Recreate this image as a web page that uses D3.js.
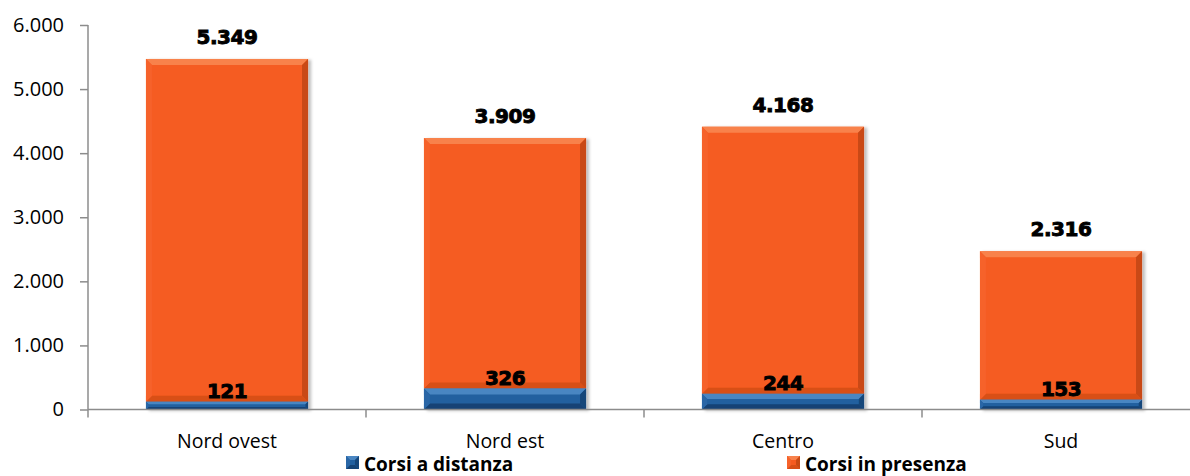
<!DOCTYPE html>
<html>
<head>
<meta charset="utf-8">
<script src="https://cdn.jsdelivr.net/npm/d3@7"></script>
<style>
  body { margin: 0; background: #fff; }
  svg { display: block; }
</style>
</head>
<body>
<div id="chart"></div>
<script>
// data
const categories = ["Nord ovest", "Nord est", "Centro", "Sud"];
const distanza = [121, 326, 244, 153];
const presenza = [5349, 3909, 4168, 2316];
const yTicks = [0, 1000, 2000, 3000, 4000, 5000, 6000];
const seriesNames = ["Corsi a distanza", "Corsi in presenza"];

var width = 1190, height = 476;
var plotLeft = 88, plotRight = 1200, plotTop = 25, plotBottom = 409.5;

var it = d3.formatLocale({decimal: ",", thousands: ".", grouping: [3], currency: ["€", ""]});
var fmt = it.format(",d");

var svg = d3.select("#chart").append("svg")
  .attr("width", width).attr("height", height);

var defs = svg.append("defs");
var f = defs.append("filter").attr("id", "shadow")
  .attr("x", "-10%").attr("y", "-10%").attr("width", "130%").attr("height", "130%");
f.append("feDropShadow").attr("dx", 3).attr("dy", 1).attr("stdDeviation", 1.5)
  .attr("flood-color", "#000").attr("flood-opacity", 0.25);

var x = d3.scaleBand().domain(categories).range([plotLeft, plotRight])
  .paddingInner(0.417).paddingOuter(0.2085);
var y = d3.scaleLinear().domain([0, 6000]).range([plotBottom, plotTop]);

// colours: main, top, left, right, bottom
var palette = {
  blue:   {main: "#22609f", top: "#4a86c2", left: "#2966a6", right: "#15467a", bottom: "#154375"},
  orange: {main: "#f55b20", top: "#f8824c", left: "#f6622a", right: "#c94a14", bottom: "#d84f17"}
};

function bevelBox(g, x0, x1, y0, y1, c, bmax) {
  var b = Math.min(bmax || 6, (y1 - y0) / 3, (x1 - x0) / 2);
  g.append("rect").attr("x", x0).attr("y", y0)
    .attr("width", x1 - x0).attr("height", y1 - y0).attr("fill", c.main);
  var polys = [
    [[x0, y0], [x1, y0], [x1 - b, y0 + b], [x0 + b, y0 + b], c.top],
    [[x0, y1], [x1, y1], [x1 - b, y1 - b], [x0 + b, y1 - b], c.bottom],
    [[x0, y0], [x0 + b, y0 + b], [x0 + b, y1 - b], [x0, y1], c.left],
    [[x1, y0], [x1 - b, y0 + b], [x1 - b, y1 - b], [x1, y1], c.right]
  ];
  polys.forEach(function(p) {
    g.append("polygon")
      .attr("points", p.slice(0, 4).map(function(q) { return q.join(","); }).join(" "))
      .attr("fill", p[4]);
  });
}

// bars
categories.forEach(function(cat, i) {
  var g = svg.append("g").attr("filter", "url(#shadow)");
  var x0 = x(cat), x1 = x(cat) + x.bandwidth();
  bevelBox(g, x0, x1, y(distanza[i] + presenza[i]), y(distanza[i]), palette.orange);
  bevelBox(g, x0, x1, y(distanza[i]), y(0), palette.blue);
});

// axes
var axisColor = "#8c8c8c";
var yAxis = svg.append("g").attr("transform", "translate(" + plotLeft + ",0)")
  .call(d3.axisLeft(y).tickValues(yTicks).tickFormat(fmt).tickSize(8).tickPadding(16));
yAxis.select(".domain").attr("stroke", axisColor).attr("stroke-width", 1.5)
  .attr("d", "M0," + plotTop + "V" + plotBottom);
yAxis.selectAll(".tick line").attr("stroke", axisColor).attr("stroke-width", 1.5);
yAxis.selectAll(".tick text")
  .attr("font-family", "Open Sans").attr("font-size", 20).attr("fill", "#000");

svg.append("line").attr("x1", plotLeft).attr("x2", width)
  .attr("y1", plotBottom).attr("y2", plotBottom)
  .attr("stroke", axisColor).attr("stroke-width", 1.5);

// boundary ticks under the x axis
var bounds = categories.map(function(c) { return x(c) - x.step() * x.paddingInner() / 2; });
svg.selectAll(".xtick").data(bounds).enter().append("line")
  .attr("x1", function(d) { return d; }).attr("x2", function(d) { return d; })
  .attr("y1", plotBottom).attr("y2", plotBottom + 8)
  .attr("stroke", axisColor).attr("stroke-width", 1.5);

svg.selectAll(".cat").data(categories).enter().append("text")
  .attr("x", function(d) { return x(d) + x.bandwidth() / 2; })
  .attr("y", 448)
  .attr("text-anchor", "middle")
  .attr("font-family", "Open Sans").attr("font-size", 19.5)
  .text(function(d) { return d; });

// value labels
var lab = function(sel) {
  sel.attr("text-anchor", "middle")
    .attr("font-family", "DejaVu Sans").attr("font-weight", "bold")
    .attr("font-size", 20).attr("fill", "#000")
    .attr("letter-spacing", -0.5)
    .attr("stroke", "#000").attr("stroke-width", 0.9);
};
svg.selectAll(".top").data(presenza).enter().append("text")
  .attr("x", function(d, i) { return x(categories[i]) + x.bandwidth() / 2; })
  .attr("y", function(d, i) { return y(d + distanza[i]) - 15; })
  .call(lab)
  .text(function(d) { return fmt(d); });
svg.selectAll(".bot").data(distanza).enter().append("text")
  .attr("x", function(d, i) { return x(categories[i]) + x.bandwidth() / 2; })
  .attr("y", function(d) { return y(d) - 4; })
  .call(lab)
  .text(function(d) { return fmt(d); });

// legend
var legendPos = [346, 787];
var legendCol = [palette.blue, palette.orange];
seriesNames.forEach(function(name, i) {
  var g = svg.append("g").attr("transform", "translate(" + legendPos[i] + ",456)");
  bevelBox(g, 0, 13, 0, 13, legendCol[i], 4);
  g.append("text").attr("x", 18).attr("y", 14.5)
    .attr("font-family", "Open Sans").attr("font-weight", "bold")
    .attr("font-size", 19).attr("fill", "#000")
    .text(name);
});
</script>
</body>
</html>
